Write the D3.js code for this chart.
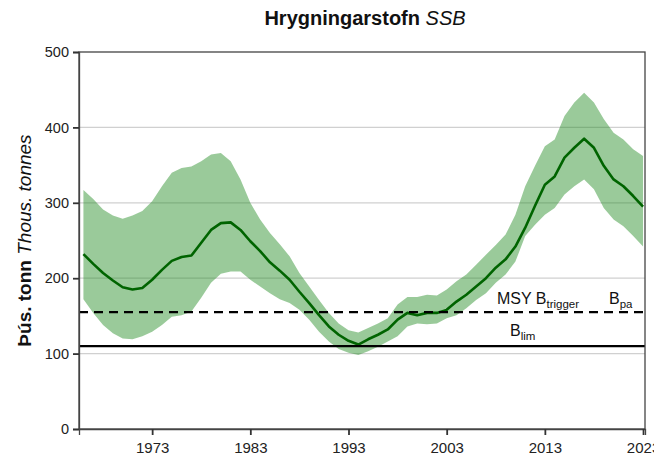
<!DOCTYPE html>
<html><head><meta charset="utf-8">
<script src="https://cdn.jsdelivr.net/npm/d3@7"></script>
<style>body{margin:0;background:#fff}svg{display:block}text{font-family:"Liberation Sans",Arial,sans-serif}</style>
</head><body>
<svg id="c" width="654" height="455"></svg>
<script>
const years = d3.range(1966, 2024);
const ssb = [232,219,207,197,188,185,187,198,211,223,228,230,247,264,273,274,
  264,249,236,221,210,198,182,167,151,136,125,117,112,119,125,132,
  145,154,151,154,154,158,169,178,189,200,214,225,242,
  267,296,324,335,360,373,385,373,349,331,322,309,295];
const upper = [317,305,291,283,279,283,289,302,322,340,346,348,355,364,366,355,
  331,300,278,260,245,229,207,189,171,154,140,131,128,134,140,147,
  165,175,175,178,177,185,196,205,218,231,244,258,284,
  322,349,375,384,415,433,446,433,411,393,384,371,362];
const lower = [172,154,138,127,120,119,123,129,138,149,151,156,174,194,206,209,
  209,198,189,180,172,167,158,145,129,116,106,101,98,103,109,116,
  123,136,140,139,140,147,151,160,171,180,194,205,222,
  256,271,284,293,311,322,331,318,293,278,269,256,242];
const yTicks = [0,100,200,300,400,500];
const xTicks = [1973,1983,1993,2003,2013,2023];
const refLines = [{name:"Bpa", value:155, dash:true},{name:"Blim", value:110, dash:false}];

const svg = d3.select("#c");
const L = 79, R = 645, T = 52, B = 429;
const x = d3.scaleLinear().domain([1965.55, 2023.2]).range([L, R]);
const y = d3.scaleLinear().domain([0, 500]).range([B, T]);

// grid
svg.append("g").selectAll("line").data(yTicks.filter(d=>d>0&&d<500)).join("line")
  .attr("x1", L).attr("x2", R).attr("y1", d=>y(d)).attr("y2", d=>y(d))
  .attr("stroke", "#d0d0d0").attr("stroke-width", 1.2);

const data = years.map((yr,i)=>({yr, v:ssb[i], hi:upper[i], lo:lower[i]}));
svg.append("path").datum(data)
  .attr("d", d3.area().x(d=>x(d.yr)).y0(d=>y(d.lo)).y1(d=>y(d.hi)))
  .attr("fill", "#228b22").attr("fill-opacity", 0.46);
svg.append("path").datum(data)
  .attr("d", d3.line().x(d=>x(d.yr)).y(d=>y(d.v)))
  .attr("fill", "none").attr("stroke", "#006400").attr("stroke-width", 2.6)
  .attr("stroke-linejoin", "round");

// reference lines
refLines.forEach(r=>{
  svg.append("line").attr("x1", L).attr("x2", R).attr("y1", y(r.value)).attr("y2", y(r.value))
    .attr("stroke", "#000").attr("stroke-width", 2.2)
    .attr("stroke-dasharray", r.dash ? "9,6" : null);
});
// ref labels
const t1 = svg.append("text").attr("x", 497).attr("y", y(155)-8).attr("font-size", 16).attr("fill","#111");
t1.append("tspan").text("MSY B");
t1.append("tspan").attr("font-size", 11.5).attr("dy", 4).text("trigger");
const t2 = svg.append("text").attr("x", 609).attr("y", y(155)-8).attr("font-size", 16).attr("fill","#111");
t2.append("tspan").text("B");
t2.append("tspan").attr("font-size", 11.5).attr("dy", 4).text("pa");
const t3 = svg.append("text").attr("x", 510).attr("y", y(110)-10).attr("font-size", 16).attr("fill","#111");
t3.append("tspan").text("B");
t3.append("tspan").attr("font-size", 11.5).attr("dy", 4).text("lim");

// frame
svg.append("rect").attr("x", L).attr("y", T).attr("width", R-L).attr("height", B-T)
  .attr("fill", "none").attr("stroke", "#444").attr("stroke-width", 1.3);

// axes
const ya = svg.append("g").attr("transform", `translate(${L},0)`)
  .call(d3.axisLeft(y).tickValues(yTicks).tickSize(6).tickPadding(4));
ya.select(".domain").attr("stroke", "#444").attr("stroke-width", 1.3);
ya.selectAll(".tick line").attr("stroke", "#333").attr("stroke-width", 1.8);
ya.selectAll(".tick text").attr("font-size", 14.5).attr("fill", "#222").style("font-family", '"Liberation Sans",Arial,sans-serif');

const xa = svg.append("g").attr("transform", `translate(0,${B})`)
  .call(d3.axisBottom(x).tickValues(xTicks).tickFormat(d3.format("d")).tickSize(6).tickPadding(7));
xa.select(".domain").attr("stroke", "#444").attr("stroke-width", 1.3);
xa.selectAll(".tick line").attr("stroke", "#333").attr("stroke-width", 1.8);
xa.selectAll(".tick text").attr("font-size", 15).attr("fill", "#222").style("font-family", '"Liberation Sans",Arial,sans-serif');

// title
const tt = svg.append("text").attr("x", 365).attr("y", 25).attr("text-anchor", "middle").attr("font-size", 20).attr("fill","#111");
tt.append("tspan").attr("font-weight", "bold").text("Hrygningarstofn ");
tt.append("tspan").attr("font-style", "italic").text("SSB");

// y label
const yl = svg.append("text").attr("transform", `translate(31,${(T+B)/2}) rotate(-90)`)
  .attr("text-anchor", "middle").attr("font-size", 19).attr("fill","#111");
yl.append("tspan").attr("font-weight", "bold").text("Þús. tonn ");
yl.append("tspan").attr("font-style", "italic").text("Thous. tonnes");
</script>
</body></html>
